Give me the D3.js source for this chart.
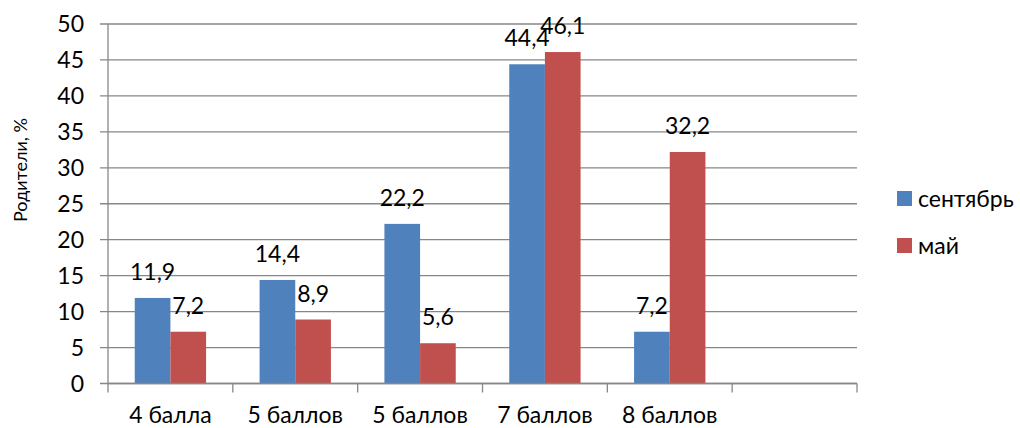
<!DOCTYPE html>
<html><head><meta charset="utf-8">
<script src="https://cdn.jsdelivr.net/npm/d3@7/dist/d3.min.js"></script>
<style>body{margin:0;background:#fff}svg{display:block}text{font-family:Lato,"Open Sans",sans-serif;fill:#000}</style>
</head><body><svg id="c" width="1020" height="428"></svg>
<script>
const categories = ["4 балла", "5 баллов", "5 баллов ", "7 баллов", "8 баллов", ""];
const seriesNames = ["сентябрь", "май"];
const september = [11.9, 14.4, 22.2, 44.4, 7.2, null];
const may = [7.2, 8.9, 5.6, 46.1, 32.2, null];
const yTicks = [0, 5, 10, 15, 20, 25, 30, 35, 40, 45, 50];
const colors = ["#4F81BD", "#C0504D"];
const FS = 23;

const svg = d3.select("#c");
const L = 108, R = 857, T = 24, B = 383.5;
const x = d3.scaleBand().domain(categories).range([L, R]).paddingInner(0).paddingOuter(0);
const y = d3.scaleLinear().domain([0, 50]).range([B, T]);
const inner = d3.scaleBand().domain([0, 1]).range([0, x.bandwidth()]).paddingOuter(0.75).paddingInner(0);

svg.append("g").selectAll("line").data(yTicks).join("line")
  .attr("x1", 100).attr("x2", R).attr("y1", d => y(d)).attr("y2", d => y(d))
  .attr("stroke", "#878787").attr("stroke-width", 1.3);

svg.append("g").selectAll("text").data(yTicks).join("text")
  .attr("x", 84).attr("y", d => y(d)).attr("dy", "0.35em").attr("text-anchor", "end")
  .attr("font-size", FS).text(d => d);

svg.append("line").attr("x1", L).attr("x2", L).attr("y1", T).attr("y2", B)
  .attr("stroke", "#878787").attr("stroke-width", 1.3);

const series = [september, may];
series.forEach((vals, si) => {
  const g = svg.append("g");
  const data = categories.map((c, i) => ({c, v: vals[i]})).filter(d => d.v != null);
  g.selectAll("rect").data(data).join("rect")
    .attr("x", d => x(d.c) + inner(si)).attr("width", inner.bandwidth())
    .attr("y", d => y(d.v)).attr("height", d => B - y(d.v))
    .attr("fill", colors[si]);
  g.selectAll("text").data(data).join("text")
    .attr("x", d => x(d.c) + inner(si) + inner.bandwidth() / 2)
    .attr("y", d => y(d.v) - 18).attr("text-anchor", "middle").attr("font-size", FS)
    .text(d => String(d.v).replace(".", ","));
});

svg.append("line").attr("x1", L).attr("x2", R).attr("y1", B).attr("y2", B)
  .attr("stroke", "#878787").attr("stroke-width", 1.3);
const xt = categories.map(c => x(c)).concat([R]);
svg.append("g").selectAll("line").data(xt).join("line")
  .attr("x1", d => d).attr("x2", d => d).attr("y1", B).attr("y2", B + 9)
  .attr("stroke", "#878787").attr("stroke-width", 1.3);
svg.append("g").selectAll("text").data(categories).join("text")
  .attr("x", d => x(d) + x.bandwidth() / 2).attr("y", 423).attr("text-anchor", "middle")
  .attr("font-size", FS).text(d => d.trim());

svg.append("text").attr("transform", "translate(27,170) rotate(-90)")
  .attr("text-anchor", "middle").attr("font-size", 18).text("Родители, %");

const lg = svg.append("g").selectAll("g").data(seriesNames).join("g")
  .attr("transform", (d, i) => `translate(897,${191 + i * 47})`);
lg.append("rect").attr("width", 15).attr("height", 15).attr("fill", (d, i) => colors[i]);
lg.append("text").attr("x", 21).attr("y", 8).attr("dy", "0.35em").attr("font-size", FS).text(d => d);
</script></body></html>
